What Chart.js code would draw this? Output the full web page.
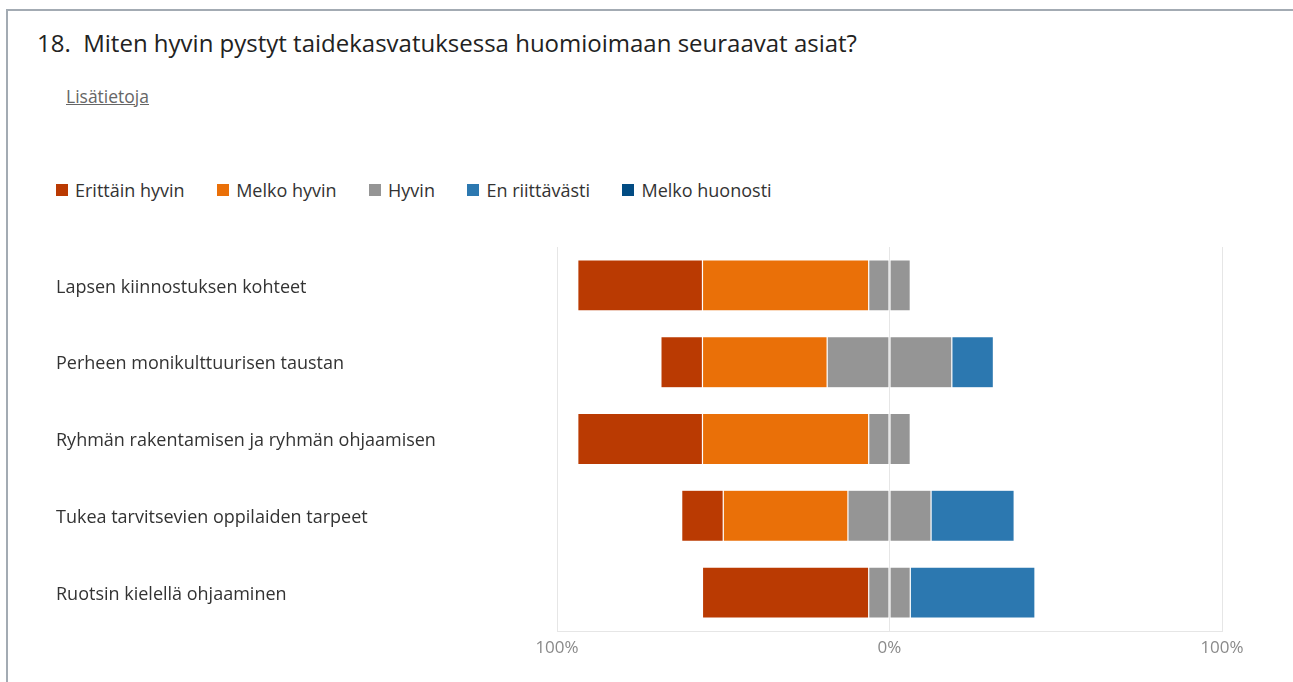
<!DOCTYPE html>
<html lang="fi">
<head>
<meta charset="utf-8">
<title>Kysely 18</title>
<script src="https://cdn.jsdelivr.net/npm/chart.js@4/dist/chart.umd.min.js"></script>
<style>
    html, body { margin: 0; padding: 0; background: #fff; }
    body { width: 1293px; height: 682px; position: relative; overflow: hidden; font-family: "Open Sans", "Noto Sans", sans-serif; }
    .card { position: absolute; left: 6px; top: 9px; width: 1400px; height: 800px; border-left: 2px solid #a3abb3; border-top: 2px solid #a3abb3; }
    .title { position: absolute; left: 37px; top: 26px; font-size: 24px; color: #222; white-space: pre; }
    .more { position: absolute; left: 66px; top: 84px; font-size: 17.5px; color: #666; text-decoration: underline; }
    .legend { position: absolute; left: 56px; top: 178px; display: flex; font-size: 18px; color: #333; }
    .legend span { display: flex; align-items: center; margin-right: 32.5px; }
    .legend i { display: inline-block; width: 12px; height: 12px; margin-right: 7px; }
    .chart-box { position: absolute; left: 0; top: 230px; width: 1293px; height: 452px; }
    .chart-box canvas { display: block; }
</style>
</head>
<body>
<div class="card"></div>
<div class="title">18.  Miten hyvin pystyt taidekasvatuksessa huomioimaan seuraavat asiat?</div>
<div class="more">Lisätietoja</div>
<div class="legend" id="legend"></div>
<div class="chart-box"><canvas id="likertChart" width="1293" height="452"></canvas></div>

<script>
// Väittämät ja vastausosuudet (%)
const categories = [
    'Lapsen kiinnostuksen kohteet',
    'Perheen monikulttuurisen taustan',
    'Ryhmän rakentamisen ja ryhmän ohjaamisen',
    'Tukea tarvitsevien oppilaiden tarpeet',
    'Ruotsin kielellä ohjaaminen'
];
const erittainHyvin = [37.5, 12.5, 37.5, 12.5, 50];
const melkoHyvin = [50, 37.5, 50, 37.5, 0];
const hyvin = [12.5, 37.5, 12.5, 25, 12.5];
const enRiittavasti = [0, 12.5, 0, 25, 37.5];
const melkoHuonosti = [0, 0, 0, 0, 0];
const xTicks = [-100, 0, 100];

const answerNames = ['Erittäin hyvin', 'Melko hyvin', 'Hyvin', 'En riittävästi', 'Melko huonosti'];
const answerColors = ['#ba3a02', '#ea7008', '#959595', '#2c78b0', '#024c83'];

// Legenda
const legend = document.getElementById('legend');
answerNames.forEach((name, i) => {
    const item = document.createElement('span');
    item.innerHTML = '<i style="background:' + answerColors[i] + '"></i>' + name;
    legend.appendChild(item);
});

// Neutraali vastaus jaetaan nollan molemmin puolin
const half = arr => arr.map(v => v / 2);
const neg = arr => arr.map(v => -v);

function bar(label, data, color) {
    return {
        label: label,
        data: data,
        backgroundColor: color,
        borderColor: 'rgba(255,255,255,0.45)',
        borderWidth: 0.6,
        borderSkipped: false,
        categoryPercentage: 1,
        barPercentage: 0.665
    };
}

const font = { family: '"Open Sans", "Noto Sans", sans-serif', size: 18 };

new Chart(document.getElementById('likertChart'), {
    type: 'bar',
    data: {
        labels: categories,
        datasets: [
            bar('Hyvin', neg(half(hyvin)), answerColors[2]),
            bar('Melko hyvin', neg(melkoHyvin), answerColors[1]),
            bar('Erittäin hyvin', neg(erittainHyvin), answerColors[0]),
            bar('Hyvin', half(hyvin), answerColors[2]),
            bar('En riittävästi', enRiittavasti, answerColors[3]),
            bar('Melko huonosti', melkoHuonosti, answerColors[4])
        ]
    },
    options: {
        indexAxis: 'y',
        responsive: false,
        animation: false,
        layout: { padding: { left: 56, right: 71, top: 17, bottom: 0 } },
        plugins: {
            legend: { display: false },
            tooltip: { enabled: false }
        },
        scales: {
            x: {
                stacked: true,
                min: -100,
                max: 100,
                afterBuildTicks: scale => { scale.ticks = xTicks.map(v => ({ value: v })); },
                afterFit: scale => { scale.height = 51; },
                // ruudukko palkkien päälle
                grid: { color: '#e6e6e6', drawTicks: false, z: 1 },
                border: { color: '#e6e6e6', z: 1 },
                ticks: {
                    padding: 7,
                    color: '#8a8a8a',
                    font: { family: font.family, size: 17 },
                    callback: v => Math.abs(v) + '%'
                }
            },
            y: {
                stacked: true,
                afterFit: scale => { scale.width = 501; },
                grid: { display: false },
                border: { display: false },
                ticks: { crossAlign: 'far', labelOffset: 2, color: '#333', font: font }
            }
        }
    }
});
</script>
</body>
</html>
